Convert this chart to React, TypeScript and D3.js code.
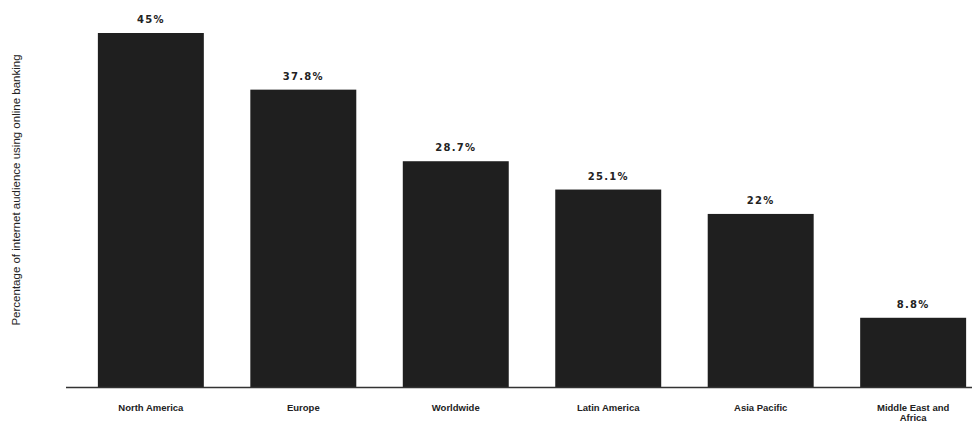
import React from "react";
import * as d3 from "d3";

const categories: string[][] = [
  ["North America"],
  ["Europe"],
  ["Worldwide"],
  ["Latin America"],
  ["Asia Pacific"],
  ["Middle East and", "Africa"],
];
const values: number[] = [45, 37.8, 28.7, 25.1, 22, 8.8];
const valueLabels: string[] = ["45%", "37.8%", "28.7%", "25.1%", "22%", "8.8%"];
const yLabel = "Percentage of internet audience using online banking";

const W = 972;
const H = 422;

export default function App() {
  const keys = categories.map((c) => c.join(" "));
  const x = d3
    .scaleBand<string>()
    .domain(keys)
    .range([75, 989])
    .paddingInner(0.305)
    .paddingOuter(0.15);
  const y = d3.scaleLinear().domain([0, 45]).range([387, 33]);

  return (
    <svg
      width={W}
      height={H}
      style={{ position: "absolute", left: 0, top: 0, background: "#fff" }}
    >
      <rect x={0} y={0} width={W} height={H} fill="#fff" />
      <text
        transform={`translate(17,190) rotate(-90)`}
        textAnchor="middle"
        dominantBaseline="middle"
        fontFamily="'Liberation Sans', sans-serif"
        fontSize={11.5}
        fill="#222"
      >
        {yLabel}
      </text>
      {values.map((v, i) => {
        const k = keys[i];
        const bx = x(k) as number;
        return (
          <g key={k}>
            <rect
              x={bx}
              y={y(v)}
              width={x.bandwidth()}
              height={y(0) - y(v)}
              fill="#1f1f1f"
            />
            <text
              x={bx + x.bandwidth() / 2}
              y={y(v) - 10}
              textAnchor="middle"
              fontFamily="'DejaVu Sans', sans-serif"
              fontWeight="bold"
              fontSize={10}
              letterSpacing={1.3}
              fill="#222"
            >
              {valueLabels[i]}
            </text>
            {categories[i].map((line, j) => (
              <text
                key={j}
                x={bx + x.bandwidth() / 2}
                y={410.5 + j * 10}
                textAnchor="middle"
                fontFamily="'Liberation Sans', sans-serif"
                fontWeight="bold"
                fontSize={9.5}
                fill="#222"
              >
                {line}
              </text>
            ))}
          </g>
        );
      })}
      <line x1={66} x2={W} y1={387.5} y2={387.5} stroke="#333" strokeWidth={1.5} />
    </svg>
  );
}
